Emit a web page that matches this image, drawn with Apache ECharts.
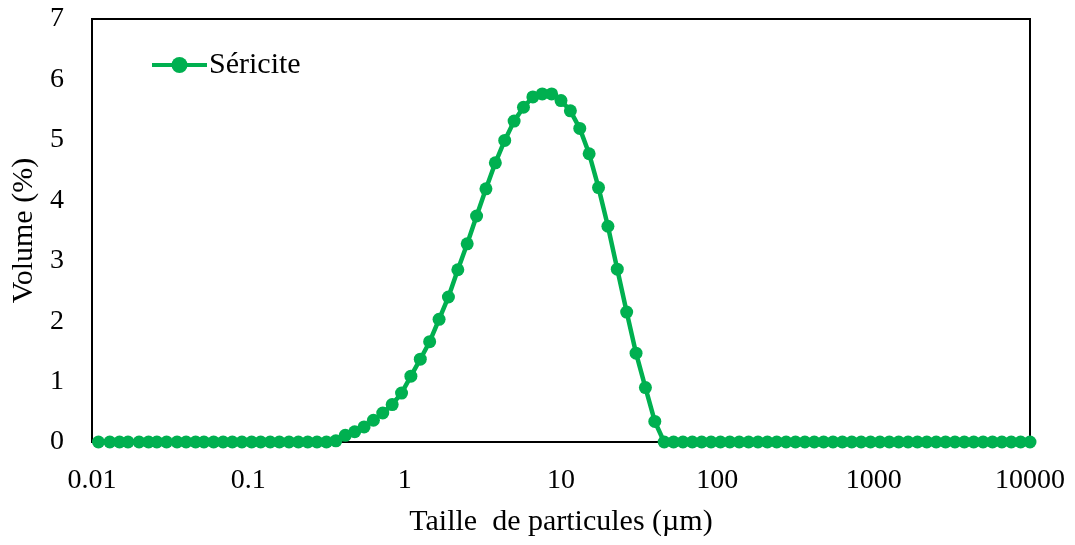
<!DOCTYPE html>
<html>
<head>
<meta charset="utf-8">
<script src="https://cdn.jsdelivr.net/npm/echarts@6/dist/echarts.min.js"></script>
<style>
html,body{margin:0;padding:0;background:#fff;}
#chart{width:1075px;height:545px;}
</style>
</head>
<body>
<div id="chart"></div>
<script>
// Particle size classes (µm)
var sizes = [0.011, 0.013, 0.015, 0.017, 0.020, 0.023, 0.026, 0.030, 0.035, 0.040,
  0.046, 0.052, 0.060, 0.069, 0.079, 0.091, 0.105, 0.120, 0.138, 0.158,
  0.182, 0.209, 0.240, 0.275, 0.316, 0.363, 0.417, 0.479, 0.550, 0.631,
  0.724, 0.832, 0.955, 1.096, 1.259, 1.445, 1.660, 1.905, 2.188, 2.512,
  2.884, 3.311, 3.802, 4.365, 5.012, 5.754, 6.607, 7.586, 8.710, 10.000,
  11.482, 13.183, 15.136, 17.378, 19.953, 22.909, 26.303, 30.200, 34.674, 39.811,
  45.709, 52.481, 60.256, 69.183, 79.433, 91.201, 104.713, 120.226, 138.038, 158.489,
  181.970, 208.930, 239.883, 275.423, 316.228, 363.078, 416.869, 478.630, 549.541, 630.957,
  724.436, 831.764, 954.993, 1096.478, 1258.925, 1445.440, 1659.587, 1905.461, 2187.762, 2511.886,
  2884.032, 3311.311, 3801.894, 4365.158, 5011.872, 5754.399, 6606.934, 7585.776, 8709.636, 10000];

// Volume (%) for Séricite
var sericite = [0, 0, 0, 0, 0, 0, 0, 0, 0, 0,
  0, 0, 0, 0, 0, 0, 0, 0, 0, 0,
  0, 0, 0, 0, 0, 0.02, 0.11, 0.17, 0.25, 0.36,
  0.48, 0.62, 0.81, 1.09, 1.37, 1.66, 2.03, 2.40, 2.85, 3.28,
  3.74, 4.19, 4.62, 4.99, 5.31, 5.54, 5.71, 5.76, 5.76, 5.65,
  5.48, 5.19, 4.77, 4.21, 3.57, 2.86, 2.15, 1.47, 0.90, 0.34,
  0, 0, 0, 0, 0, 0, 0, 0, 0, 0,
  0, 0, 0, 0, 0, 0, 0, 0, 0, 0,
  0, 0, 0, 0, 0, 0, 0, 0, 0, 0,
  0, 0, 0, 0, 0, 0, 0, 0, 0, 0];

var xTickLabels = {0.01: '0.01', 0.1: '0.1', 1: '1', 10: '10', 100: '100', 1000: '1000', 10000: '10000'};
var seriesName = 'Séricite';
var xTitle = 'Taille  de particules (µm)';
var yTitle = 'Volume (%)';

var points = sizes.map(function (s, i) { return [s, sericite[i]]; });

var font = 'Liberation Serif, Times New Roman, serif';
var chart = echarts.init(document.getElementById('chart'), null, {renderer: 'canvas'});
chart.setOption({
  animation: false,
  backgroundColor: '#fff',
  grid: {left: 92, right: 45, top: 19, bottom: 103, show: true, borderColor: '#000', borderWidth: 2, backgroundColor: 'transparent'},
  legend: {
    left: 145, top: 45,
    itemWidth: 55, itemHeight: 20, itemGap: 6,
    lineStyle: {width: 4},
    textStyle: {fontFamily: font, fontSize: 30, color: '#000', padding: [0, 0, 0, -3]},
    data: [seriesName]
  },
  xAxis: {
    type: 'log', logBase: 10, min: 0.01, max: 10000,
    name: xTitle, nameLocation: 'middle', nameGap: 65,
    nameTextStyle: {fontFamily: font, fontSize: 30, color: '#000'},
    axisLine: {show: true, lineStyle: {color: '#000', width: 2}},
    axisTick: {show: false},
    splitLine: {show: false},
    axisLabel: {
      margin: 25, fontFamily: font, fontSize: 28, color: '#000',
      formatter: function (v) {
        var k = Math.round(Math.log10(v));
        var key = Math.pow(10, k);
        return xTickLabels[key] !== undefined ? xTickLabels[key] : '';
      }
    }
  },
  yAxis: {
    type: 'value', min: 0, max: 7, interval: 1,
    name: yTitle, nameLocation: 'middle', nameGap: 52, nameRotate: 90,
    nameTextStyle: {fontFamily: font, fontSize: 30, color: '#000'},
    axisLine: {show: true, lineStyle: {color: '#000', width: 2}},
    axisTick: {show: false},
    splitLine: {show: false},
    axisLabel: {margin: 28, fontFamily: font, fontSize: 28, color: '#000'}
  },
  series: [{
    name: seriesName,
    type: 'line',
    data: points,
    clip: false,
    symbol: 'circle',
    symbolSize: 13,
    showAllSymbol: true,
    lineStyle: {color: '#00B050', width: 4.5},
    itemStyle: {color: '#00B050'}
  }]
});
</script>
</body>
</html>
